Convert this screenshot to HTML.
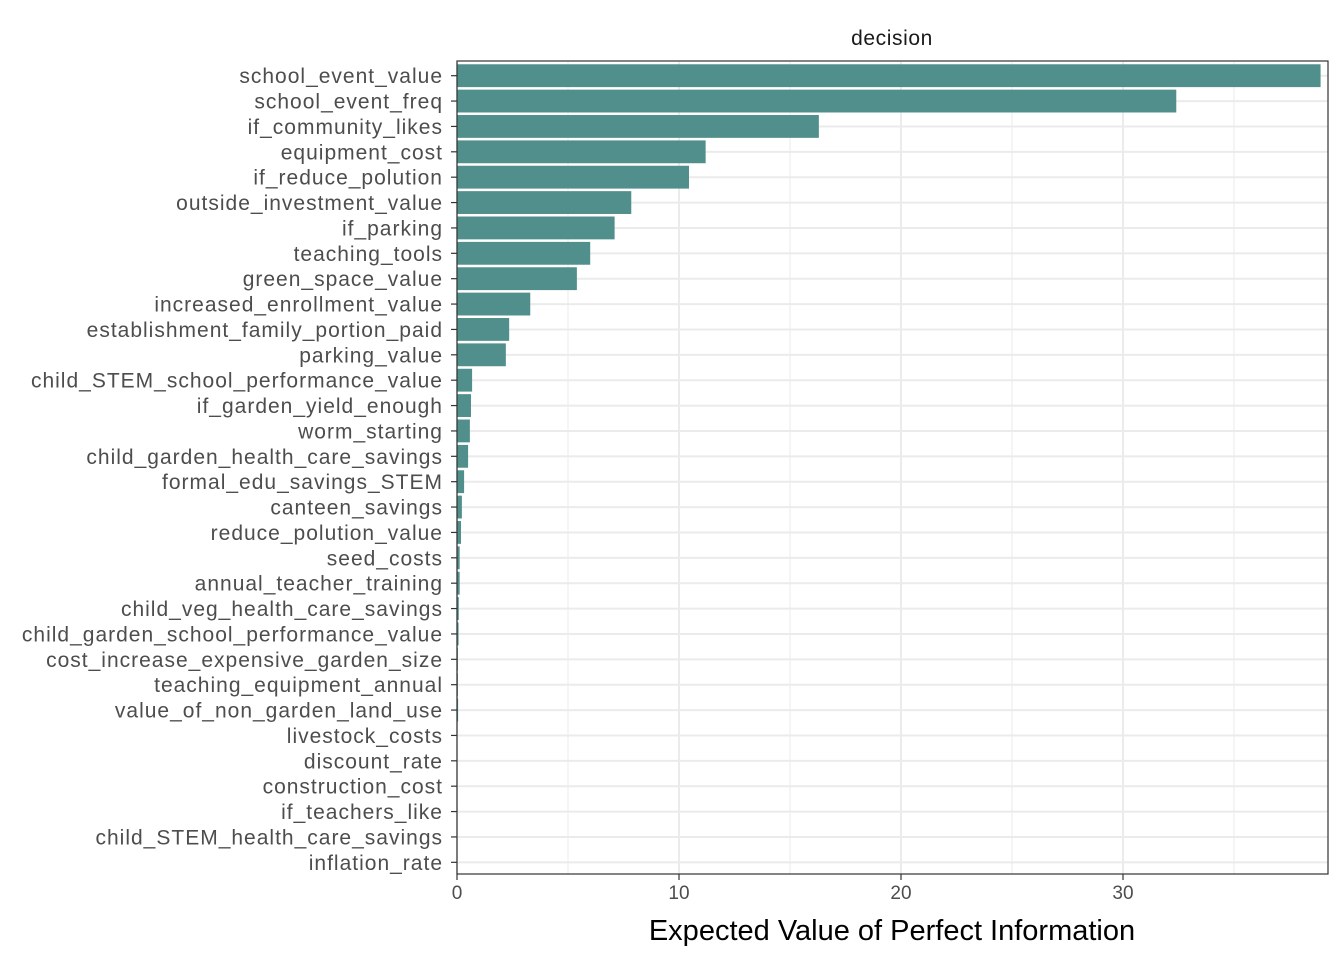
<!DOCTYPE html>
<html><head><meta charset="utf-8"><style>
body{margin:0;background:#fff;}
svg{display:block;font-family:"Liberation Sans",Arial,sans-serif;}
</style></head><body>
<svg id="chart" width="1344" height="960" xmlns="http://www.w3.org/2000/svg">
<rect width="1344" height="960" fill="#fff"/>
<text x="892" y="45" font-size="21" letter-spacing="0.6" text-anchor="middle" fill="#1a1a1a">decision</text>
<g id="grid"></g><g id="bars"></g><g id="axes"></g>
<rect x="457" y="61" width="871" height="813" fill="none" stroke="#333" stroke-width="1.2"/>
<text x="892" y="940" font-size="29" text-anchor="middle" fill="#000">Expected Value of Perfect Information</text>
</svg>
<script>
const categories=["school_event_value","school_event_freq","if_community_likes","equipment_cost","if_reduce_polution","outside_investment_value","if_parking","teaching_tools","green_space_value","increased_enrollment_value","establishment_family_portion_paid","parking_value","child_STEM_school_performance_value","if_garden_yield_enough","worm_starting","child_garden_health_care_savings","formal_edu_savings_STEM","canteen_savings","reduce_polution_value","seed_costs","annual_teacher_training","child_veg_health_care_savings","child_garden_school_performance_value","cost_increase_expensive_garden_size","teaching_equipment_annual","value_of_non_garden_land_use","livestock_costs","discount_rate","construction_cost","if_teachers_like","child_STEM_health_care_savings","inflation_rate"];
const values=[38.9,32.4,16.3,11.2,10.45,7.85,7.1,6.0,5.4,3.3,2.35,2.2,0.68,0.63,0.58,0.5,0.32,0.22,0.18,0.12,0.12,0.08,0.07,0.04,0.04,0.05,0,0,0,0,0,0];
const xTicks=[0,10,20,30];
const xMinor=[5,15,25,35];
const NS="http://www.w3.org/2000/svg";
const L=457,R=1328,T=62,B=874;
const x=v=>L+v*22.2;
const step=(B-T)/categories.length;
const y=i=>T+step*(i+0.5)+1;
function mk(tag,a,parent){const e=document.createElementNS(NS,tag);for(const k in a)e.setAttribute(k,a[k]);document.getElementById(parent).appendChild(e);return e;}
xMinor.forEach(v=>{const e=mk("line",{x1:x(v),x2:x(v),y1:T,y2:B,stroke:"#ebebeb","stroke-width":1},"grid");

});
xTicks.forEach(v=>{const e=mk("line",{x1:x(v),x2:x(v),y1:T,y2:B,stroke:"#ebebeb","stroke-width":2},"grid");


const t=mk("line",{x1:x(v),x2:x(v),y1:B,y2:B+6,stroke:"#333","stroke-width":1.2},"axes");


const l=mk("text",{x:x(v),y:B+25,"font-size":19,"text-anchor":"middle",fill:"#4d4d4d"},"axes");
l.textContent=v;

});
categories.forEach((c,i)=>{
const g=mk("line",{x1:L,x2:R,y1:y(i),y2:y(i),stroke:"#ebebeb","stroke-width":2},"grid");


const h=step*0.9;
const b=mk("rect",{x:L,y:y(i)-h/2,width:Math.max(0,x(values[i])-L),height:h,fill:"#518f8c"},"bars");


const t=mk("line",{x1:L-6,x2:L,y1:y(i),y2:y(i),stroke:"#333","stroke-width":1.2},"axes");


const l=mk("text",{x:L-14,y:y(i)+7.5,"font-size":21,"letter-spacing":1,"text-anchor":"end",fill:"#4d4d4d"},"axes");
l.textContent=c;

});
</script>
</body></html>
